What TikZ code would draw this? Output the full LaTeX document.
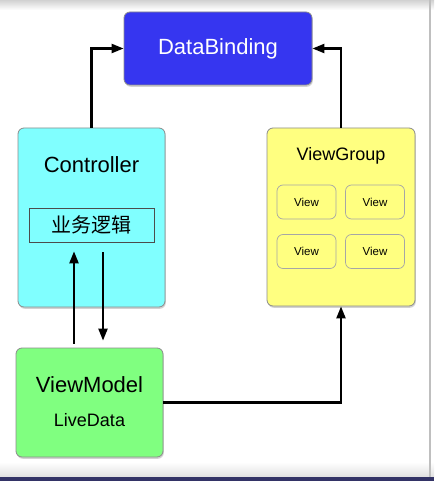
\documentclass[tikz,border=0pt]{standalone}
\usepackage{fontspec}
\setmainfont{Liberation Sans}
\newfontfamily\cjk{Noto Sans CJK SC}
\usetikzlibrary{arrows.meta,shadows}
\definecolor{dbblue}{RGB}{54,54,240}
\definecolor{ctrlcyan}{RGB}{128,255,255}
\definecolor{vgyellow}{RGB}{255,255,128}
\definecolor{vmgreen}{RGB}{128,255,128}
\tikzset{
  block/.style={draw=black!45, line width=0.8pt, rounded corners=6pt,
    drop shadow={opacity=0.35, shadow xshift=0.8pt, shadow yshift=-1.8pt}},
  viewbox/.style={draw=black!35, line width=0.7pt, rounded corners=6pt,
    minimum width=59pt, minimum height=34pt, font=\fontsize{11.5}{12}\selectfont},
  arr/.style={-{Triangle[length=12pt,width=9pt]}, line width=2.2pt}
}
\begin{document}
\begin{tikzpicture}[x=1pt, y=-1pt]
%frame of the screenshot
\useasboundingbox (0,0) rectangle (434,481);
\fill[white] (0,0) rectangle (434,481);
\shade[top color=black!18, bottom color=white] (0,0) rectangle (434,10);
\shade[top color=white, bottom color=black!12] (0,462) rectangle (434,477);
\fill[black!25] (429,0) rectangle (431,477);
\fill[blue!25!black!80] (0,477) rectangle (434,481);
%blocks
\node[block, fill=dbblue, text=white, minimum width=188pt, minimum height=73pt,
  font=\fontsize{22}{24}\selectfont] (db) at (218,48.5) {DataBinding};
\node[block, fill=ctrlcyan, minimum width=147pt, minimum height=179pt] (ctrl) at (91.5,217.5) {};
\node[block, fill=vgyellow, minimum width=148pt, minimum height=178pt] (vg) at (341,217) {};
\node[block, fill=vmgreen, minimum width=147pt, minimum height=109pt] (vm) at (89.5,402.5) {};
%texts
\node[font=\fontsize{22}{24}\selectfont] (ctrltext) at (91.5,165) {Controller};
\node[draw=black!70, line width=0.7pt, minimum width=125pt, minimum height=34pt,
  font=\cjk\fontsize{20}{22}\selectfont] (logic) at (91.5,225) {业务逻辑};
\node[font=\fontsize{18}{20}\selectfont] (vgtext) at (341,156) {ViewGroup};
\node[font=\fontsize{22}{24}\selectfont] (vmtext) at (89.5,385) {ViewModel};
\node[font=\fontsize{18}{20}\selectfont] (ldtext) at (89.5,420) {LiveData};
%views
\node[viewbox] (v1) at (306.5,202) {View};
\node[viewbox] (v2) at (375,202) {View};
\node[viewbox] (v3) at (306.5,251.5) {View};
\node[viewbox] (v4) at (375,251.5) {View};
%connectors
\draw[arr] (ctrl.north) |- (db.west);
\draw[arr] (vg.north) |- (db.east);
\draw[arr, shorten <=4pt, shorten >=9pt] ([xshift=-15.5pt]vm.north) -- ([xshift=-15.5pt]vm.north |- logic.south);
\draw[arr, shorten <=10pt, shorten >=7pt] ([xshift=13.5pt]vm.north |- logic.south) -- ([xshift=13.5pt]vm.north);
\draw[arr] (vm.east) -| (vg.south);
\end{tikzpicture}
\end{document}
